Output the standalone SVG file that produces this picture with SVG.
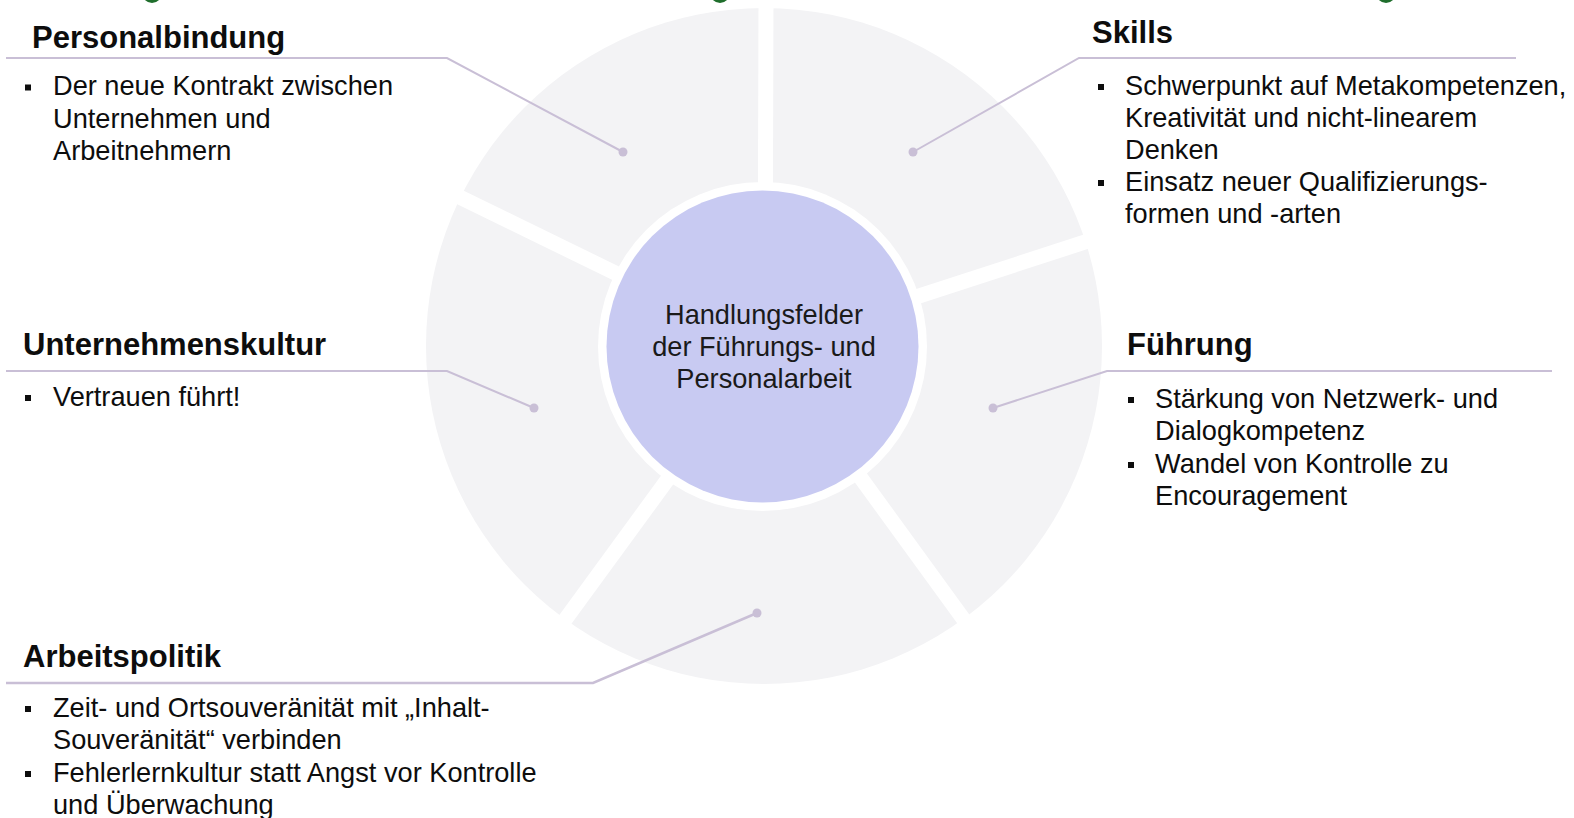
<svg xmlns="http://www.w3.org/2000/svg" width="1574" height="818" viewBox="0 0 1574 818">
  <style>
    .title { font-family: "Liberation Sans", Arial, sans-serif; font-weight: bold; font-size: 31px; fill: #0d0d0d; }
    .body { font-family: "Liberation Sans", Arial, sans-serif; font-size: 27.2px; fill: #0d0d0d; }
    .center { font-family: "Liberation Sans", Arial, sans-serif; font-size: 27.2px; fill: #1a1a1a; text-anchor: middle; }
    .leader { fill: none; stroke: #c9bfd6; stroke-width: 2; }
    .dot { fill: #c9bfd6; }
    .bullet { fill: #0d0d0d; }
    .gap { stroke: #ffffff; stroke-width: 15; }
    .mark { fill: #1f6e2c; }
  </style>
  <rect width="1574" height="818" fill="#ffffff"/>

  <!-- small marks along the upper edge -->
  <circle class="mark" cx="152" cy="-7" r="10"/>
  <circle class="mark" cx="720" cy="-7" r="10"/>
  <circle class="mark" cx="1386" cy="-7" r="10"/>

  <!-- ring of five fields -->
  <g id="ring">
    <circle cx="764" cy="346" r="338" fill="#f3f3f5"/>
    <line class="gap" x1="765" y1="346" x2="766" y2="0"/>
    <line class="gap" x1="765" y1="346" x2="1093" y2="239.4"/>
    <line class="gap" x1="765" y1="346" x2="967.8" y2="625.1"/>
    <line class="gap" x1="765" y1="346" x2="561.2" y2="625.1"/>
    <line class="gap" x1="765" y1="346" x2="454.9" y2="194.8"/>
  </g>

  <!-- centre hub -->
  <g id="hub">
    <circle cx="762.5" cy="346.4" r="164.5" fill="#ffffff"/>
    <circle cx="762.5" cy="346.4" r="156" fill="#c8caf2"/>
    <text class="center" x="764" y="324">Handlungsfelder</text>
    <text class="center" x="764" y="356">der Führungs- und</text>
    <text class="center" x="764" y="388">Personalarbeit</text>
  </g>

  <!-- leader lines -->
  <g id="connectors">
    <polyline class="leader" points="6,58 447,58 623,152"/>
    <circle class="dot" cx="623" cy="152" r="4.5"/>
    <polyline class="leader" points="1516,58 1079,58 913,152"/>
    <circle class="dot" cx="913" cy="152" r="4.5"/>
    <polyline class="leader" points="6,371 447,371 534,408"/>
    <circle class="dot" cx="534" cy="408" r="4.5"/>
    <polyline class="leader" points="1552,371 1107,371 993,408"/>
    <circle class="dot" cx="993" cy="408" r="4.5"/>
    <polyline class="leader" points="6,683 593,683 757,613" style="stroke-width:2.5"/>
    <circle class="dot" cx="757" cy="613" r="4.5"/>
  </g>

  <g id="personalbindung">
    <text class="title" x="32" y="48">Personalbindung</text>
    <rect class="bullet" x="25" y="84.5" width="6" height="6"/>
    <text class="body" x="53" y="95">Der neue Kontrakt zwischen</text>
    <text class="body" x="53" y="127.5">Unternehmen und</text>
    <text class="body" x="53" y="160">Arbeitnehmern</text>
  </g>

  <g id="skills">
    <text class="title" x="1092" y="43">Skills</text>
    <rect class="bullet" x="1098" y="84" width="6" height="6"/>
    <text class="body" x="1125" y="94.5">Schwerpunkt auf Metakompetenzen,</text>
    <text class="body" x="1125" y="126.5">Kreativität und nicht-linearem</text>
    <text class="body" x="1125" y="158.5">Denken</text>
    <rect class="bullet" x="1098" y="180" width="6" height="6"/>
    <text class="body" x="1125" y="190.5">Einsatz neuer Qualifizierungs-</text>
    <text class="body" x="1125" y="222.5">formen und -arten</text>
  </g>

  <g id="unternehmenskultur">
    <text class="title" x="23" y="355">Unternehmenskultur</text>
    <rect class="bullet" x="25" y="395" width="6" height="6"/>
    <text class="body" x="53" y="405.5">Vertrauen führt!</text>
  </g>

  <g id="fuehrung">
    <text class="title" x="1127" y="355">Führung</text>
    <rect class="bullet" x="1128" y="397" width="6" height="6"/>
    <text class="body" x="1155" y="407.5">Stärkung von Netzwerk- und</text>
    <text class="body" x="1155" y="440">Dialogkompetenz</text>
    <rect class="bullet" x="1128" y="462" width="6" height="6"/>
    <text class="body" x="1155" y="472.5">Wandel von Kontrolle zu</text>
    <text class="body" x="1155" y="505">Encouragement</text>
  </g>

  <g id="arbeitspolitik">
    <text class="title" x="23" y="667">Arbeitspolitik</text>
    <rect class="bullet" x="25" y="706" width="6" height="6"/>
    <text class="body" x="53" y="716.5">Zeit- und Ortsouveränität mit „Inhalt-</text>
    <text class="body" x="53" y="749">Souveränität“ verbinden</text>
    <rect class="bullet" x="25" y="771" width="6" height="6"/>
    <text class="body" x="53" y="781.5">Fehlerlernkultur statt Angst vor Kontrolle</text>
    <text class="body" x="53" y="814">und Überwachung</text>
  </g>
</svg>
